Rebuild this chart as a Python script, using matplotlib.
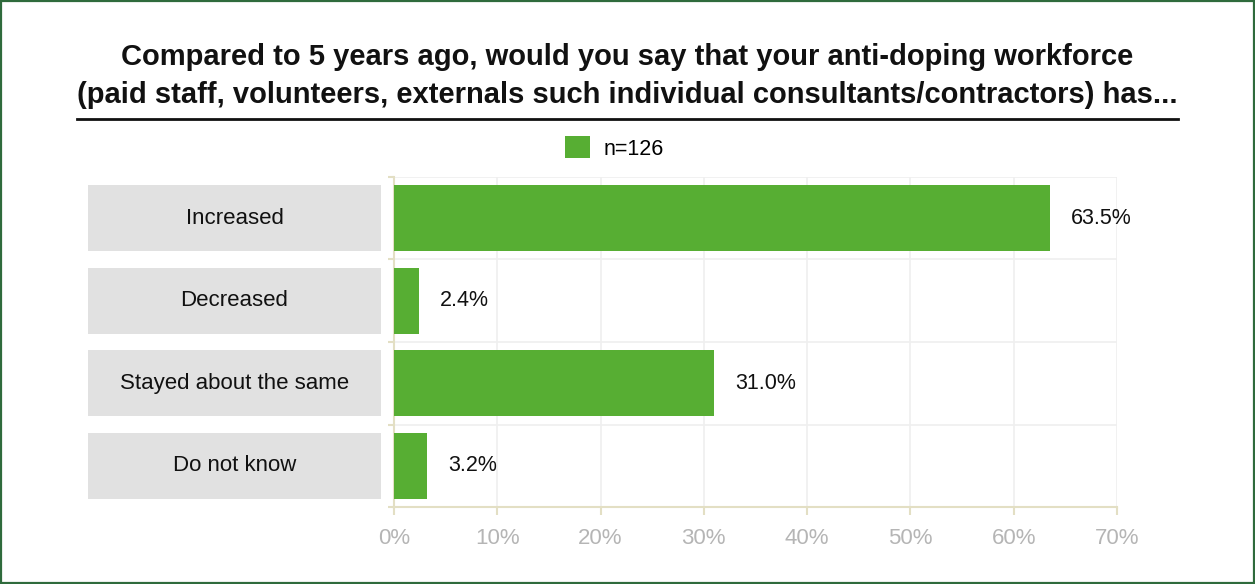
import matplotlib
matplotlib.use("Agg")
import matplotlib.pyplot as plt
from matplotlib.patches import Rectangle, Patch
from matplotlib.lines import Line2D

plt.rcParams['font.family'] = ['Liberation Sans', 'DejaVu Sans']

categories = ["Increased", "Decreased", "Stayed about the same", "Do not know"]
values = [63.5, 2.4, 31.0, 3.2]
value_labels = ["63.5%", "2.4%", "31.0%", "3.2%"]
x_ticks = [0, 10, 20, 30, 40, 50, 60, 70]
x_tick_labels = ["0%", "10%", "20%", "30%", "40%", "50%", "60%", "70%"]
series_name = "n=126"
title = ("Compared to 5 years ago, would you say that your anti-doping workforce\n"
         "(paid staff, volunteers, externals such individual consultants/contractors) has...")

GREEN = "#57ae33"
LABEL_BG = "#e1e1e1"
AXIS_COL = "#e3dfc4"
GRID_COL = "#efefef"
TICK_TXT = "#b5b5b5"

W, H = 1255, 584
fig = plt.figure(figsize=(W / 100, H / 100), dpi=100)
fig.patch.set_facecolor("white")

def fx(px):
    return px / W

def fy(py):
    return 1 - py / H

# outer frame
fig.add_artist(Rectangle((0.0008, 0.0015), 0.9984, 0.997, transform=fig.transFigure,
                         fill=False, edgecolor="#2f6b3c", linewidth=1.6))

# title and rule under it
fig.text(fx(627), fy(76), title, ha="center", va="center", fontsize=21,
         fontweight="bold", color="#111111", linespacing=1.42)
fig.add_artist(Line2D([fx(77), fx(1178)], [fy(119), fy(119)], transform=fig.transFigure,
                      color="#111111", linewidth=2))

top_px, bot_px = 177, 507
n = len(categories)
ypos = list(range(n))

# main bar axes
ax = fig.add_axes([fx(394), fy(bot_px), fx(1117) - fx(394), (bot_px - top_px) / H])
ax.barh(ypos, values, height=0.8, color=GREEN, zorder=3)
ax.set_ylim(n - 0.5, -0.5)
ax.set_xlim(0, 70)
ax.set_xticks(x_ticks)
ax.set_xticklabels(x_tick_labels)
ax.set_yticks([i - 0.5 for i in range(n + 1)])
ax.set_yticklabels([])
ax.tick_params(axis="y", length=4, color=AXIS_COL, width=1.5)
ax.tick_params(axis="x", length=6, color=AXIS_COL, width=1.5, pad=9,
               labelsize=16, labelcolor=TICK_TXT)
ax.grid(True, color=GRID_COL, linewidth=1.2, zorder=0)
for s in ["top", "right"]:
    ax.spines[s].set_visible(False)
for s in ["left", "bottom"]:
    ax.spines[s].set_color(AXIS_COL)
    ax.spines[s].set_linewidth(1.5)
for y, v, lab in zip(ypos, values, value_labels):
    ax.annotate(lab, xy=(v, y), xytext=(15, 0), textcoords="offset points",
                ha="left", va="center", fontsize=15.5, color="#111111")

# category label boxes
axl = fig.add_axes([fx(88), fy(bot_px), fx(381) - fx(88), (bot_px - top_px) / H])
axl.barh(ypos, [1] * n, height=0.8, color=LABEL_BG)
axl.set_ylim(n - 0.5, -0.5)
axl.set_xlim(0, 1)
axl.axis("off")
for y, c in zip(ypos, categories):
    axl.text(0.5, y, c, ha="center", va="center", fontsize=16, color="#111111")

# legend
fig.legend(handles=[Patch(facecolor=GREEN, label=series_name)], loc="center",
           bbox_to_anchor=(fx(614), fy(148)), frameon=False, fontsize=15.5,
           handlelength=1.2, handleheight=1.2, handletextpad=0.6)

fig.savefig("out.png", dpi=100)
